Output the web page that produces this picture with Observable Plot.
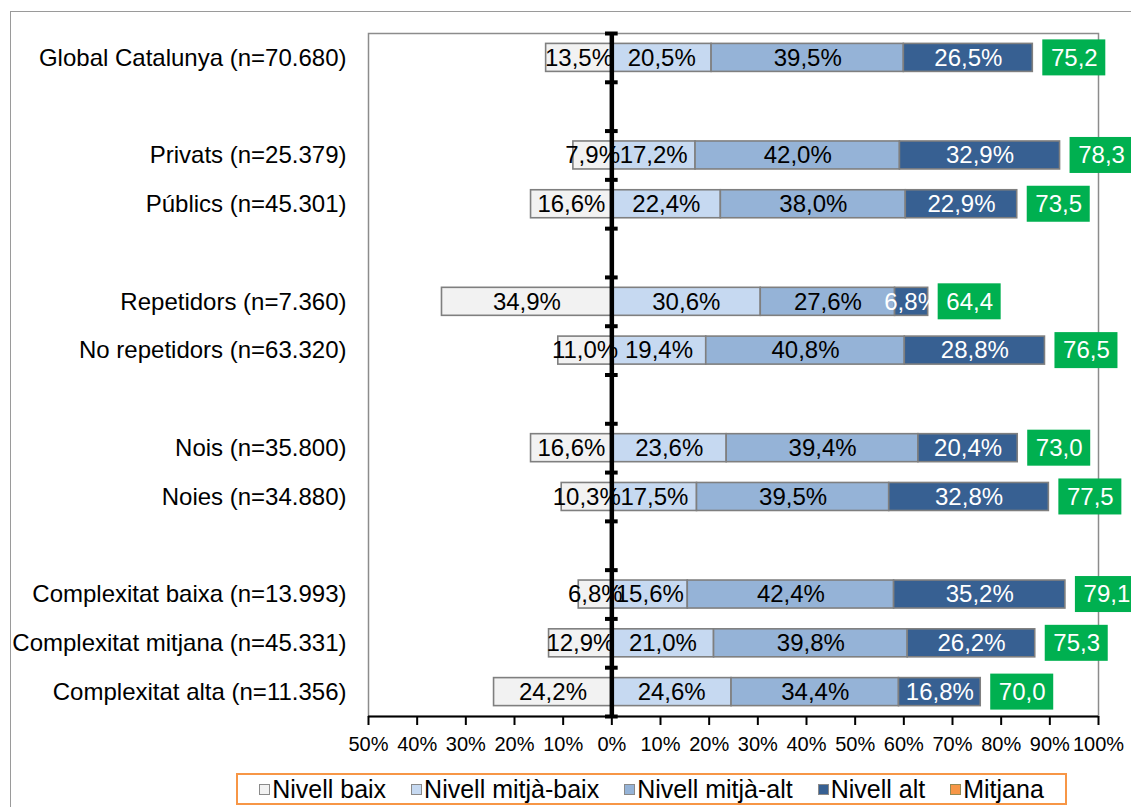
<!DOCTYPE html>
<html>
<head>
<meta charset="utf-8">
<script src="https://cdn.jsdelivr.net/npm/d3@7"></script>
<script src="https://cdn.jsdelivr.net/npm/@observablehq/plot@0.6"></script>
<style>
  html, body { margin: 0; padding: 0; background: #fff; }
  body { width: 1131px; height: 807px; position: relative; overflow: hidden; font-family: "Liberation Sans", Arial, sans-serif; }
  #outer { position: absolute; left: 10px; top: 11px; width: 1140px; height: 820px; border: 1.5px solid #9a9a9a; box-sizing: border-box; }
  #chart { position: absolute; left: 0; top: 0; }
  #legend { position: absolute; left: 236px; top: 773px; width: 831px; height: 32px; box-sizing: border-box;
    border: 2px solid #F79646; display: flex; align-items: center; justify-content: center; font-size: 25px; color: #000; background: #fff; }
  .item { display: flex; align-items: center; margin: 0 12.5px; white-space: nowrap; }
  .sw { width: 9px; height: 9px; border: 1.5px solid #8a8a8a; margin-right: 2px; }
</style>
</head>
<body>
<div id="outer"></div>
<div id="chart"></div>
<div id="legend"></div>
<script>
const categories = [
  "Global Catalunya (n=70.680)",
  "Privats (n=25.379)",
  "Públics (n=45.301)",
  "Repetidors (n=7.360)",
  "No repetidors (n=63.320)",
  "Nois (n=35.800)",
  "Noies (n=34.880)",
  "Complexitat baixa (n=13.993)",
  "Complexitat mitjana (n=45.331)",
  "Complexitat alta (n=11.356)"
];
const groups = [0, 1, 1, 2, 2, 3, 3, 4, 4, 4];
const nivellBaix      = [13.5, 7.9, 16.6, 34.9, 11.0, 16.6, 10.3, 6.8, 12.9, 24.2];
const nivellMitjaBaix = [20.5, 17.2, 22.4, 30.6, 19.4, 23.6, 17.5, 15.6, 21.0, 24.6];
const nivellMitjaAlt  = [39.5, 42.0, 38.0, 27.6, 40.8, 39.4, 39.5, 42.4, 39.8, 34.4];
const nivellAlt       = [26.5, 32.9, 22.9, 6.8, 28.8, 20.4, 32.8, 35.2, 26.2, 16.8];
const mitjana         = [75.2, 78.3, 73.5, 64.4, 76.5, 73.0, 77.5, 79.1, 75.3, 70.0];
const levels = ["Nivell baix", "Nivell mitjà-baix", "Nivell mitjà-alt", "Nivell alt"];
const levelColors = ["#F2F2F2", "#C6D9F1", "#95B3D7", "#376092"];
const xTicks = [-50, -40, -30, -20, -10, 0, 10, 20, 30, 40, 50, 60, 70, 80, 90, 100];

const fmt = v => v.toFixed(1).replace(".", ",");
const nSlots = categories.length + groups[groups.length - 1];

const rows = categories.map((name, i) => {
  const slot = i + groups[i];
  const pos = nivellMitjaBaix[i] + nivellMitjaAlt[i] + nivellAlt[i];
  return { name, slot, end: pos, mean: mitjana[i] };
});

const segments = [];
categories.forEach((name, i) => {
  const slot = i + groups[i];
  segments.push({ slot, level: levels[0], x1: -nivellBaix[i], x2: 0, v: nivellBaix[i] });
  let acc = 0;
  [nivellMitjaBaix, nivellMitjaAlt, nivellAlt].forEach((arr, k) => {
    segments.push({ slot, level: levels[k + 1], x1: acc, x2: acc + arr[i], v: arr[i] });
    acc += arr[i];
  });
});

const slotH = (716 - 33) / nSlots;
const barInset = (slotH - 28) / 2;
const boxInset = (slotH - 36) / 2;

const chart = Plot.plot({
  width: 1131,
  height: 766,
  marginLeft: 368,
  marginRight: 33,
  marginTop: 33,
  marginBottom: 50,
  style: { fontFamily: "Liberation Sans, Arial, sans-serif", background: "transparent", color: "#000" },
  x: { domain: [-50, 100] },
  y: { domain: [0, nSlots], reverse: true, axis: null },
  color: { domain: levels, range: levelColors },
  marks: [
    Plot.frame({ stroke: "#8c8c8c", strokeWidth: 1.5 }),
    Plot.rectX(segments, {
      x1: "x1", x2: "x2", y1: "slot", y2: d => d.slot + 1,
      insetTop: barInset, insetBottom: barInset,
      fill: "level", stroke: "#7f7f7f", strokeWidth: 1.6,
      ariaLabel: "bars"
    }),
    Plot.text(segments.filter(d => d.level !== "Nivell alt"), {
      x: d => (d.x1 + d.x2) / 2, y: d => d.slot + 0.5,
      text: d => fmt(d.v) + "%", fill: "#000", fontSize: 24
    }),
    Plot.text(segments.filter(d => d.level === "Nivell alt"), {
      x: d => (d.x1 + d.x2) / 2, y: d => d.slot + 0.5,
      text: d => fmt(d.v) + "%", fill: "#fff", fontSize: 24
    }),
    Plot.rectX(rows, {
      x1: "end", x2: "end", y1: "slot", y2: d => d.slot + 1,
      insetLeft: 10, insetRight: -73, insetTop: boxInset, insetBottom: boxInset,
      fill: "#00B050"
    }),
    Plot.text(rows, {
      x: "end", y: d => d.slot + 0.5, dx: 41.5,
      text: d => fmt(d.mean), fill: "#fff", fontSize: 24
    }),
    Plot.text(rows, {
      x: () => -50, y: d => d.slot + 0.5, dx: -22,
      text: "name", textAnchor: "end", fill: "#000", fontSize: 24
    }),
    Plot.ruleY([nSlots], { stroke: "#000", strokeWidth: 2 }),
    Plot.axisX({
      ticks: xTicks, tickFormat: d => Math.abs(d) + "%",
      tickSize: 9, tickPadding: 11, fontSize: 20, stroke: "#000", strokeWidth: 2, fill: "#000"
    }),
    Plot.ruleX([0], { stroke: "#000", strokeWidth: 4.5 }),
    Plot.ruleY(d3.range(nSlots + 1), { x1: -1.3, x2: 1.3, stroke: "#000", strokeWidth: 4 })
  ]
});

d3.select(chart).selectAll("g[aria-label='bars']").style("filter", "drop-shadow(3px 4px 3px rgba(0,0,0,0.22))");
document.getElementById("chart").appendChild(chart);

const legendItems = levels.map((l, i) => ({ label: l, color: levelColors[i], border: "#8a8a8a" }))
  .concat([{ label: "Mitjana", color: "#F79646", border: "#948a54" }]);
const legend = d3.select("#legend");
legendItems.forEach(it => {
  const item = legend.append("div").attr("class", "item");
  item.append("div").attr("class", "sw").style("background", it.color).style("border-color", it.border);
  item.append("span").text(it.label);
});
</script>
</body>
</html>
